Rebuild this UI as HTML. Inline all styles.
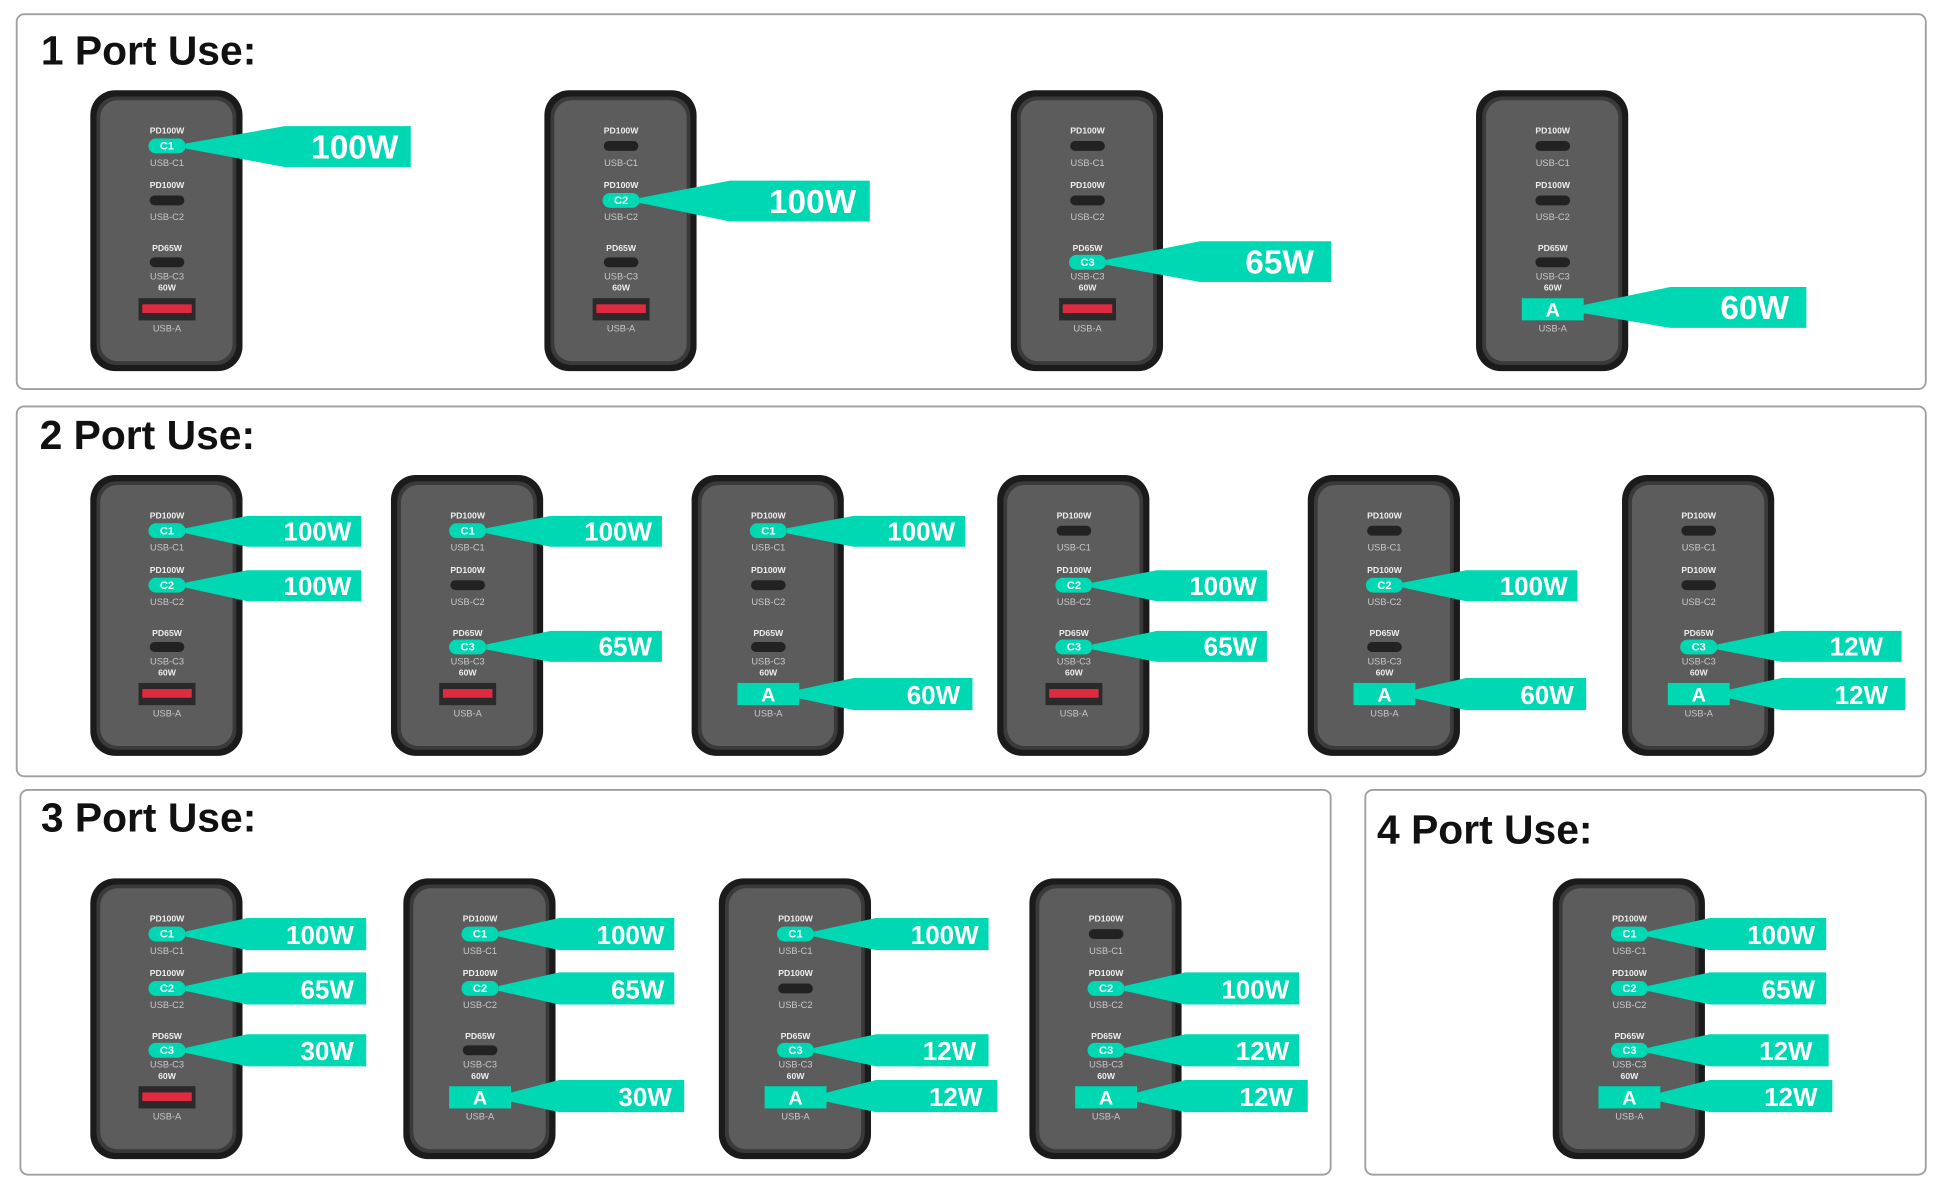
<!DOCTYPE html>
<html><head><meta charset="utf-8"><style>
html,body{margin:0;padding:0;background:#fff;width:1940px;height:1200px;overflow:hidden}
svg{display:block}
.t{font-family:"Liberation Sans",sans-serif;font-weight:bold}
.tt{font-family:"Liberation Sans",sans-serif;font-weight:bold;font-size:33px;fill:#111}
.lb{font-family:"Liberation Sans",sans-serif;font-weight:bold;font-size:7px;fill:#eee;text-anchor:middle}
.lg{font-family:"Liberation Sans",sans-serif;font-size:7.5px;fill:#c8c8c8;text-anchor:middle}
.cw{font-family:"Liberation Sans",sans-serif;font-weight:bold;fill:#fff;text-anchor:end}
.pw{font-family:"Liberation Sans",sans-serif;font-weight:bold;fill:#fff;text-anchor:middle}
</style></head><body>
<svg width="1940" height="1200" viewBox="0 0 1568 970" preserveAspectRatio="none" xmlns="http://www.w3.org/2000/svg">
<defs>
<g id="body">
<rect x="0" y="0" width="123" height="227" rx="20" fill="#1b1b1b"/>
<rect x="5" y="5" width="113" height="217" rx="16" fill="#3a3a3a"/>
<rect x="8" y="8" width="107" height="211" rx="14" fill="#5c5c5c"/>
<rect x="48" y="41" width="28" height="8" rx="4" fill="#222"/>
<rect x="48" y="85" width="28" height="8" rx="4" fill="#222"/>
<rect x="48" y="135" width="28" height="8" rx="4" fill="#222"/>
<rect x="39" y="168" width="46" height="18" fill="#2a2a2a"/>
<rect x="42" y="173" width="40" height="7" fill="#e02a40"/>
</g>
</defs>
<!-- section boxes -->
<rect x="13.5" y="11.5" width="1543" height="303" rx="6" fill="none" stroke="#a0a0a0" stroke-width="1.5"/>
<rect x="13.5" y="328.5" width="1543" height="299" rx="6" fill="none" stroke="#a0a0a0" stroke-width="1.5"/>
<rect x="16.5" y="638.5" width="1059" height="311" rx="6" fill="none" stroke="#a0a0a0" stroke-width="1.5"/>
<rect x="1103.5" y="638.5" width="1453" height="311" rx="6" fill="none" stroke="#a0a0a0" stroke-width="1.5" style="display:none"/>
<rect x="1103.5" y="638.5" width="453" height="311" rx="6" fill="none" stroke="#a0a0a0" stroke-width="1.5"/>
<text class="tt" x="33" y="52">1 Port Use:</text>
<text class="tt" x="32" y="363">2 Port Use:</text>
<text class="tt" x="33" y="672">3 Port Use:</text>
<text class="tt" x="1113" y="682">4 Port Use:</text>

<!-- chargers: positions -->
<g id="chargers">
<g transform="translate(73,73)"><use href="#body"/><text class="lb" x="62" y="35">PD100W</text><text class="lg" x="62" y="61">USB-C1</text><text class="lb" x="62" y="79">PD100W</text><text class="lg" x="62" y="105">USB-C2</text><text class="lb" x="62" y="130">PD65W</text><text class="lg" x="62" y="153">USB-C3</text><text class="lb" x="62" y="162">60W</text><text class="lg" x="62" y="195">USB-A</text></g>
<g transform="translate(440,73)"><use href="#body"/><text class="lb" x="62" y="35">PD100W</text><text class="lg" x="62" y="61">USB-C1</text><text class="lb" x="62" y="79">PD100W</text><text class="lg" x="62" y="105">USB-C2</text><text class="lb" x="62" y="130">PD65W</text><text class="lg" x="62" y="153">USB-C3</text><text class="lb" x="62" y="162">60W</text><text class="lg" x="62" y="195">USB-A</text></g>
<g transform="translate(817,73)"><use href="#body"/><text class="lb" x="62" y="35">PD100W</text><text class="lg" x="62" y="61">USB-C1</text><text class="lb" x="62" y="79">PD100W</text><text class="lg" x="62" y="105">USB-C2</text><text class="lb" x="62" y="130">PD65W</text><text class="lg" x="62" y="153">USB-C3</text><text class="lb" x="62" y="162">60W</text><text class="lg" x="62" y="195">USB-A</text></g>
<g transform="translate(1193,73)"><use href="#body"/><text class="lb" x="62" y="35">PD100W</text><text class="lg" x="62" y="61">USB-C1</text><text class="lb" x="62" y="79">PD100W</text><text class="lg" x="62" y="105">USB-C2</text><text class="lb" x="62" y="130">PD65W</text><text class="lg" x="62" y="153">USB-C3</text><text class="lb" x="62" y="162">60W</text><text class="lg" x="62" y="195">USB-A</text></g>

<g transform="translate(73,384)"><use href="#body"/><text class="lb" x="62" y="35">PD100W</text><text class="lg" x="62" y="61">USB-C1</text><text class="lb" x="62" y="79">PD100W</text><text class="lg" x="62" y="105">USB-C2</text><text class="lb" x="62" y="130">PD65W</text><text class="lg" x="62" y="153">USB-C3</text><text class="lb" x="62" y="162">60W</text><text class="lg" x="62" y="195">USB-A</text></g>
<g transform="translate(316,384)"><use href="#body"/><text class="lb" x="62" y="35">PD100W</text><text class="lg" x="62" y="61">USB-C1</text><text class="lb" x="62" y="79">PD100W</text><text class="lg" x="62" y="105">USB-C2</text><text class="lb" x="62" y="130">PD65W</text><text class="lg" x="62" y="153">USB-C3</text><text class="lb" x="62" y="162">60W</text><text class="lg" x="62" y="195">USB-A</text></g>
<g transform="translate(559,384)"><use href="#body"/><text class="lb" x="62" y="35">PD100W</text><text class="lg" x="62" y="61">USB-C1</text><text class="lb" x="62" y="79">PD100W</text><text class="lg" x="62" y="105">USB-C2</text><text class="lb" x="62" y="130">PD65W</text><text class="lg" x="62" y="153">USB-C3</text><text class="lb" x="62" y="162">60W</text><text class="lg" x="62" y="195">USB-A</text></g>
<g transform="translate(806,384)"><use href="#body"/><text class="lb" x="62" y="35">PD100W</text><text class="lg" x="62" y="61">USB-C1</text><text class="lb" x="62" y="79">PD100W</text><text class="lg" x="62" y="105">USB-C2</text><text class="lb" x="62" y="130">PD65W</text><text class="lg" x="62" y="153">USB-C3</text><text class="lb" x="62" y="162">60W</text><text class="lg" x="62" y="195">USB-A</text></g>
<g transform="translate(1057,384)"><use href="#body"/><text class="lb" x="62" y="35">PD100W</text><text class="lg" x="62" y="61">USB-C1</text><text class="lb" x="62" y="79">PD100W</text><text class="lg" x="62" y="105">USB-C2</text><text class="lb" x="62" y="130">PD65W</text><text class="lg" x="62" y="153">USB-C3</text><text class="lb" x="62" y="162">60W</text><text class="lg" x="62" y="195">USB-A</text></g>
<g transform="translate(1311,384)"><use href="#body"/><text class="lb" x="62" y="35">PD100W</text><text class="lg" x="62" y="61">USB-C1</text><text class="lb" x="62" y="79">PD100W</text><text class="lg" x="62" y="105">USB-C2</text><text class="lb" x="62" y="130">PD65W</text><text class="lg" x="62" y="153">USB-C3</text><text class="lb" x="62" y="162">60W</text><text class="lg" x="62" y="195">USB-A</text></g>

<g transform="translate(73,710)"><use href="#body"/><text class="lb" x="62" y="35">PD100W</text><text class="lg" x="62" y="61">USB-C1</text><text class="lb" x="62" y="79">PD100W</text><text class="lg" x="62" y="105">USB-C2</text><text class="lb" x="62" y="130">PD65W</text><text class="lg" x="62" y="153">USB-C3</text><text class="lb" x="62" y="162">60W</text><text class="lg" x="62" y="195">USB-A</text></g>
<g transform="translate(326,710)"><use href="#body"/><text class="lb" x="62" y="35">PD100W</text><text class="lg" x="62" y="61">USB-C1</text><text class="lb" x="62" y="79">PD100W</text><text class="lg" x="62" y="105">USB-C2</text><text class="lb" x="62" y="130">PD65W</text><text class="lg" x="62" y="153">USB-C3</text><text class="lb" x="62" y="162">60W</text><text class="lg" x="62" y="195">USB-A</text></g>
<g transform="translate(581,710)"><use href="#body"/><text class="lb" x="62" y="35">PD100W</text><text class="lg" x="62" y="61">USB-C1</text><text class="lb" x="62" y="79">PD100W</text><text class="lg" x="62" y="105">USB-C2</text><text class="lb" x="62" y="130">PD65W</text><text class="lg" x="62" y="153">USB-C3</text><text class="lb" x="62" y="162">60W</text><text class="lg" x="62" y="195">USB-A</text></g>
<g transform="translate(832,710)"><use href="#body"/><text class="lb" x="62" y="35">PD100W</text><text class="lg" x="62" y="61">USB-C1</text><text class="lb" x="62" y="79">PD100W</text><text class="lg" x="62" y="105">USB-C2</text><text class="lb" x="62" y="130">PD65W</text><text class="lg" x="62" y="153">USB-C3</text><text class="lb" x="62" y="162">60W</text><text class="lg" x="62" y="195">USB-A</text></g>
<g transform="translate(1255,710)"><use href="#body"/><text class="lb" x="62" y="35">PD100W</text><text class="lg" x="62" y="61">USB-C1</text><text class="lb" x="62" y="79">PD100W</text><text class="lg" x="62" y="105">USB-C2</text><text class="lb" x="62" y="130">PD65W</text><text class="lg" x="62" y="153">USB-C3</text><text class="lb" x="62" y="162">60W</text><text class="lg" x="62" y="195">USB-A</text></g>
</g>

<g fill="#00d8b4">
<!-- Row 1 -->
<polygon points="150,116 230,102 332,102 332,135 230,135 150,120"/>
<rect x="120" y="112" width="30" height="12" rx="6"/>
<polygon points="517,160 590,146 703,146 703,179 590,179 517,164"/>
<rect x="487" y="156" width="30" height="12" rx="6"/>
<polygon points="894,210 970,195 1076,195 1076,228 970,228 894,214"/>
<rect x="864" y="206" width="30" height="12" rx="6"/>
<polygon points="1273,248 1350,232 1460,232 1460,265 1350,265 1273,252"/>
<rect x="1230" y="241" width="50" height="18"/>
<!-- Row 2 -->
<polygon points="150,427 200,417 292,417 292,442 200,442 150,431"/>
<rect x="120" y="423" width="30" height="12" rx="6"/>
<polygon points="150,471 200,461 292,461 292,486 200,486 150,475"/>
<rect x="120" y="467" width="30" height="12" rx="6"/>
<polygon points="393,427 445,417 535,417 535,442 445,442 393,431"/>
<rect x="363" y="423" width="30" height="12" rx="6"/>
<polygon points="393,521 445,510 535,510 535,535 445,535 393,525"/>
<rect x="363" y="517" width="30" height="12" rx="6"/>
<polygon points="636,427 690,417 780,417 780,442 690,442 636,431"/>
<rect x="606" y="423" width="30" height="12" rx="6"/>
<polygon points="639,559 690,548 786,548 786,574 690,574 639,563"/>
<rect x="596" y="552" width="50" height="18"/>
<polygon points="883,471 935,461 1024,461 1024,486 935,486 883,475"/>
<rect x="853" y="467" width="30" height="12" rx="6"/>
<polygon points="883,521 935,510 1024,510 1024,535 935,535 883,525"/>
<rect x="853" y="517" width="30" height="12" rx="6"/>
<polygon points="1134,471 1185,461 1275,461 1275,486 1185,486 1134,475"/>
<rect x="1104" y="467" width="30" height="12" rx="6"/>
<polygon points="1137,559 1185,548 1282,548 1282,574 1185,574 1137,563"/>
<rect x="1094" y="552" width="50" height="18"/>
<polygon points="1388,521 1440,510 1537,510 1537,535 1440,535 1388,525"/>
<rect x="1358" y="517" width="30" height="12" rx="6"/>
<polygon points="1391,559 1440,548 1540,548 1540,574 1440,574 1391,563"/>
<rect x="1348" y="552" width="50" height="18"/>
<!-- Row 3 -->
<polygon points="150,753 200,742 296,742 296,768 200,768 150,757"/>
<rect x="120" y="749" width="30" height="12" rx="6"/>
<polygon points="150,797 200,786 296,786 296,812 200,812 150,801"/>
<rect x="120" y="793" width="30" height="12" rx="6"/>
<polygon points="150,847 200,836 296,836 296,862 200,862 150,851"/>
<rect x="120" y="843" width="30" height="12" rx="6"/>
<polygon points="403,753 452,742 545,742 545,768 452,768 403,757"/>
<rect x="373" y="749" width="30" height="12" rx="6"/>
<polygon points="403,797 452,786 545,786 545,812 452,812 403,801"/>
<rect x="373" y="793" width="30" height="12" rx="6"/>
<polygon points="406,885 452,873 553,873 553,899 452,899 406,889"/>
<rect x="363" y="878" width="50" height="18"/>
<polygon points="658,753 708,742 799,742 799,768 708,768 658,757"/>
<rect x="628" y="749" width="30" height="12" rx="6"/>
<polygon points="658,847 708,836 799,836 799,862 708,862 658,851"/>
<rect x="628" y="843" width="30" height="12" rx="6"/>
<polygon points="661,885 708,873 806,873 806,899 708,899 661,889"/>
<rect x="618" y="878" width="50" height="18"/>
<polygon points="909,797 958,786 1050,786 1050,812 958,812 909,801"/>
<rect x="879" y="793" width="30" height="12" rx="6"/>
<polygon points="909,847 958,836 1050,836 1050,862 958,862 909,851"/>
<rect x="879" y="843" width="30" height="12" rx="6"/>
<polygon points="912,885 958,873 1057,873 1057,899 958,899 912,889"/>
<rect x="869" y="878" width="50" height="18"/>
<!-- Row 4 -->
<polygon points="1332,753 1382,742 1476,742 1476,768 1382,768 1332,757"/>
<rect x="1302" y="749" width="30" height="12" rx="6"/>
<polygon points="1332,797 1382,786 1476,786 1476,812 1382,812 1332,801"/>
<rect x="1302" y="793" width="30" height="12" rx="6"/>
<polygon points="1332,847 1382,836 1478,836 1478,862 1382,862 1332,851"/>
<rect x="1302" y="843" width="30" height="12" rx="6"/>
<polygon points="1335,885 1382,873 1481,873 1481,899 1382,899 1335,889"/>
<rect x="1292" y="878" width="50" height="18"/>
</g>

<!-- pill labels -->
<g class="pw" font-size="9">
<text x="135" y="121">C1</text><text x="502" y="165">C2</text><text x="879" y="215">C3</text>
<text x="135" y="432">C1</text><text x="135" y="476">C2</text>
<text x="378" y="432">C1</text><text x="378" y="526">C3</text>
<text x="621" y="432">C1</text>
<text x="868" y="476">C2</text><text x="868" y="526">C3</text>
<text x="1119" y="476">C2</text>
<text x="1373" y="526">C3</text>
<text x="135" y="758">C1</text><text x="135" y="802">C2</text><text x="135" y="852">C3</text>
<text x="388" y="758">C1</text><text x="388" y="802">C2</text>
<text x="643" y="758">C1</text><text x="643" y="852">C3</text>
<text x="894" y="802">C2</text><text x="894" y="852">C3</text>
<text x="1317" y="758">C1</text><text x="1317" y="802">C2</text><text x="1317" y="852">C3</text>
</g>
<g class="pw" font-size="16">
<text x="1255" y="256">A</text><text x="621" y="567">A</text><text x="1119" y="567">A</text><text x="1373" y="567">A</text>
<text x="388" y="893">A</text><text x="643" y="893">A</text><text x="894" y="893">A</text><text x="1317" y="893">A</text>
</g>

<!-- callout values -->
<g class="cw" font-size="27">
<text x="322" y="128">100W</text><text x="692" y="172">100W</text><text x="1062" y="221">65W</text><text x="1446" y="258">60W</text>
</g>
<g class="cw" font-size="21">
<text x="284" y="437">100W</text><text x="284" y="481">100W</text>
<text x="527" y="437">100W</text><text x="527" y="530">65W</text>
<text x="772" y="437">100W</text><text x="776" y="569">60W</text>
<text x="1016" y="481">100W</text><text x="1016" y="530">65W</text>
<text x="1267" y="481">100W</text><text x="1272" y="569">60W</text>
<text x="1522" y="530">12W</text><text x="1526" y="569">12W</text>
<text x="286" y="763">100W</text><text x="286" y="807">65W</text><text x="286" y="857">30W</text>
<text x="537" y="763">100W</text><text x="537" y="807">65W</text><text x="543" y="894">30W</text>
<text x="791" y="763">100W</text><text x="789" y="857">12W</text><text x="794" y="894">12W</text>
<text x="1042" y="807">100W</text><text x="1042" y="857">12W</text><text x="1045" y="894">12W</text>
<text x="1467" y="763">100W</text><text x="1467" y="807">65W</text><text x="1465" y="857">12W</text><text x="1469" y="894">12W</text>
</g>
</svg>
</body></html>
